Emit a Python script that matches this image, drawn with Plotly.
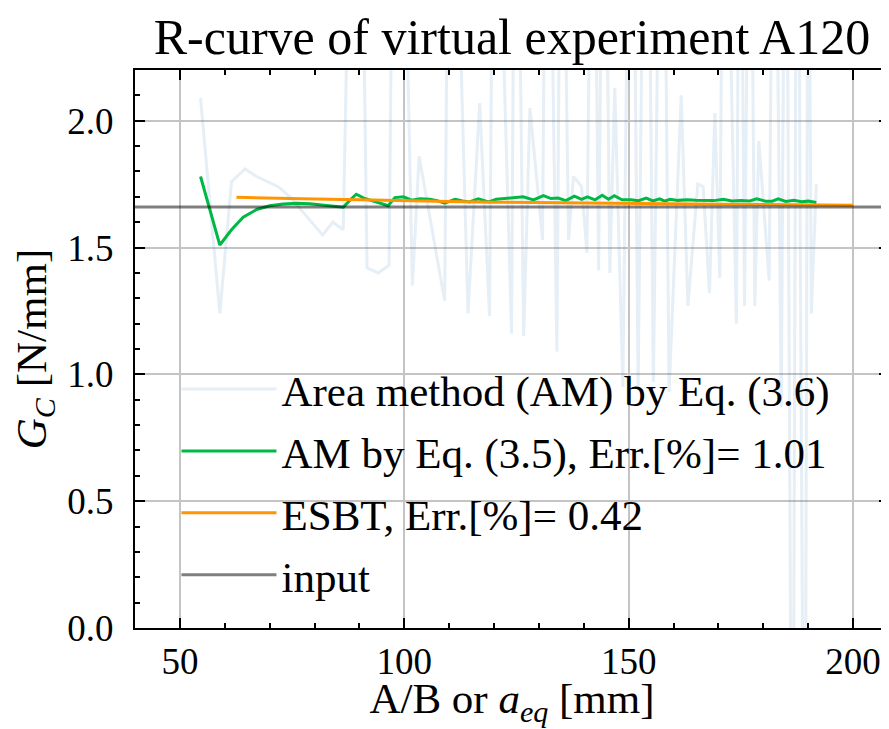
import plotly.graph_objects as go

# Area method (AM) by Eq. (3.6) - very noisy, many values fall outside the axis range
am36_x = [54.6, 58.9, 61.5, 64.5, 67.1, 69.7, 71.9, 74.5, 78.0, 81.8, 84.1, 86.4,
          88.6, 90.2, 91.7, 94.2, 96.6, 97.8, 99.3, 101.8, 103.3, 109.0, 110.0, 111.6,
          114.2, 116.8, 119.0, 120.0, 123.9, 124.8, 126.6, 128.0, 130.8, 131.8, 134.0,
          135.0, 136.6, 137.7, 139.5, 140.7, 142.0, 143.3, 144.5, 145.8, 146.9, 148.7,
          150.6, 152.1, 153.9, 155.5, 157.5, 159.0, 161.7, 163.2, 165.4, 166.6, 168.0,
          169.2, 170.3, 171.2, 174.0, 174.8, 175.8, 177.0, 178.1, 179.0, 181.3, 182.4,
          184.0, 185.0, 186.5, 187.5, 189.2, 190.0, 190.7, 191.8]
am36_y = [2.09, 1.24, 1.76, 1.81, 1.78, 1.76, 1.74, 1.70, 1.63, 1.55, 1.60, 1.57,
          3.6, 3.4, 1.42, 1.40, 1.43, 3.6, 3.5, 1.35, 1.86, 1.29, 3.4, 2.9,
          1.24, 2.07, 1.23, 3.6, 1.16, 3.8, 1.15, 2.05, 1.53, 3.8, 1.09,
          3.6, 1.53, 1.78, 1.74, 1.48, 3.7, 1.41, 3.6, 1.40, 2.13, 0.95,
          3.9, 0.95, 3.9, 0.97, 3.8, 0.93, 2.10, 1.27, 1.75, 1.74, 1.32,
          2.03, 1.38, 3.6, 1.20, 3.6, 1.27, 3.5, 1.27, 1.92, 1.37, 3.7,
          0.87, 3.8, -1.6, 3.9, -1.6, 3.4, 1.24, 1.75]

# AM by Eq. (3.5)
am35_x = [54.6, 58.9, 61.5, 64.1, 67.1, 70.0, 73.0, 76.0, 79.0, 82.0, 84.5, 86.4,
          87.8, 89.3, 91.0, 92.8, 94.5, 96.4, 97.9, 99.8, 101.6, 103.5, 105.7, 107.3,
          109.0, 111.3, 113.0, 114.5, 116.5, 118.8, 120.5, 122.5, 124.5, 126.5, 128.8,
          131.0, 132.7, 134.3, 136.0, 137.9, 139.5, 140.8, 142.5, 144.1, 145.5, 146.8,
          148.5, 150.5, 152.2, 153.9, 155.4, 156.9, 158.0, 159.2, 161.0, 163.0, 165.0,
          167.0, 169.0, 171.1, 173.0, 175.0, 177.0, 178.5, 180.5, 182.0, 183.3, 185.0,
          186.8, 188.5, 190.0, 191.8]
am35_y = [1.78, 1.51, 1.57, 1.62, 1.65, 1.665, 1.672, 1.675, 1.673, 1.668, 1.663, 1.659,
          1.685, 1.71, 1.695, 1.685, 1.675, 1.665, 1.697, 1.70, 1.687, 1.692, 1.69, 1.685,
          1.675, 1.69, 1.684, 1.68, 1.692, 1.68, 1.69, 1.693, 1.697, 1.70, 1.688,
          1.705, 1.693, 1.695, 1.685, 1.703, 1.69, 1.70, 1.688, 1.706, 1.69, 1.704,
          1.688, 1.688, 1.685, 1.695, 1.684, 1.692, 1.683, 1.69, 1.686, 1.688, 1.686,
          1.687, 1.685, 1.69, 1.684, 1.685, 1.684, 1.692, 1.683, 1.683, 1.692, 1.682,
          1.686, 1.681, 1.683, 1.678]

# ESBT
esbt_x = [62.6, 70, 80, 90, 100, 110, 120, 130, 140, 150, 160, 170, 180, 190, 200]
esbt_y = [1.698, 1.694, 1.691, 1.688, 1.686, 1.682, 1.679, 1.677, 1.676, 1.674,
          1.673, 1.671, 1.670, 1.669, 1.667]

# input value
gc_input = 1.66
x_range = [40, 208]

names = [
    "Area method (AM) by Eq. (3.6)",
    "AM by Eq. (3.5), Err.[%]= 1.01",
    "ESBT, Err.[%]= 0.42",
    "input",
]

fig = go.Figure()
fig.add_trace(go.Scatter(x=am36_x, y=am36_y, mode="lines", name=names[0],
                         line=dict(color="rgba(12,93,165,0.1)", width=3),
                         legendgroup="a"))
fig.add_trace(go.Scatter(x=am35_x, y=am35_y, mode="lines", name=names[1],
                         line=dict(color="#00B945", width=3), legendgroup="b"))
fig.add_trace(go.Scatter(x=esbt_x, y=esbt_y, mode="lines", name=names[2],
                         line=dict(color="#FF9500", width=3), legendgroup="c"))
fig.add_trace(go.Scatter(x=x_range, y=[gc_input, gc_input], mode="lines", name=names[3],
                         line=dict(color="rgba(0,0,0,0.5)", width=3), legendgroup="d"))

axis_common = dict(
    ticks="inside", ticklen=10, tickwidth=1.5, tickcolor="black",
    showline=True, linecolor="black", linewidth=2, mirror="ticks",
    showgrid=True, gridcolor="#c4c4c4", gridwidth=1.5,
    zeroline=False, tickfont=dict(size=37), automargin=False,
)

# the page adds an 8px body margin, so the figure is sized to fit inside the window
fig.update_layout(
    width=881, height=721,
    margin=dict(l=127, r=0, t=62, b=101),
    plot_bgcolor="white", paper_bgcolor="white",
    font=dict(family="Liberation Serif", color="black"),
    title=dict(text="R-curve of virtual experiment A120", font=dict(size=50),
               x=0.5, xref="paper", xanchor="center",
               y=1 - 28 / 721, yref="container", yanchor="middle",
               automargin=False),
    xaxis=dict(range=x_range, tick0=50, dtick=50, ticklabelstandoff=0,
               minor=dict(ticks="inside", dtick=10, tick0=50, ticklen=5,
                          tickwidth=1.5, tickcolor="black", showgrid=False),
               title=dict(text="A/B or <i>a</i><sub><i>eq</i></sub> [mm]",
                          font=dict(size=43), standoff=9),
               **axis_common),
    yaxis=dict(range=[0, 2.2], tick0=0, dtick=0.5, tickformat=".1f",
               ticklabelstandoff=12,
               minor=dict(ticks="inside", dtick=0.1, tick0=0, ticklen=5,
                          tickwidth=1.5, tickcolor="black", showgrid=False),
               title=dict(text="<i>G</i><sub><i>C</i></sub> [N/mm]",
                          font=dict(size=43), standoff=14),
               **axis_common),
    legend=dict(x=0.055, y=0.49, xanchor="left", yanchor="top",
                bgcolor="rgba(0,0,0,0)", font=dict(size=43),
                tracegroupgap=3, itemwidth=95),
    showlegend=True,
)

fig.write_html("out.html")
